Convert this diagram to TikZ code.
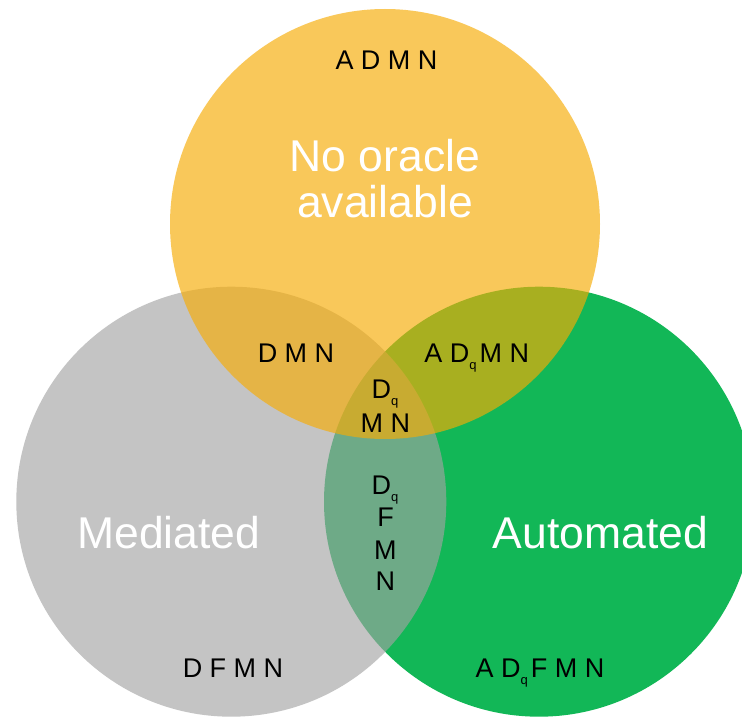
\documentclass[tikz,border=0pt]{standalone}
\usepackage{fontspec}
\setmainfont{Liberation Sans}
\newcommand\subq{\raisebox{-7.5pt}{\fontsize{13}{13}\selectfont q}}
\definecolor{venyellow}{HTML}{F7AC05}
\definecolor{vengray}{HTML}{A3A3A3}
\definecolor{vengreen}{HTML}{12B757}
\begin{document}
\begin{tikzpicture}[x=1pt,y=-1pt,
  big/.style={text=white,font=\fontsize{44.5}{45.5}\selectfont,anchor=base,inner sep=0pt},
  small/.style={text=black,font=\fontsize{27}{32}\selectfont,anchor=base,inner sep=0pt}]
\useasboundingbox (0,0) rectangle (742,717);
\clip (0,0) rectangle (742,717);
\fill[white] (0,0) rectangle (742,717);
% circles
\fill[vengreen] (539,501.7) circle (215);
\fill[vengray,fill opacity=0.64] (231.3,501.7) circle (215);
\fill[venyellow,fill opacity=0.66] (385,224) circle (215);
% titles
\node[big] (t1) at (385,171.5) {No oracle};
\node[big] (t2) at (385,217) {available};
\node[big] (med) at (168.8,548.7) {Mediated};
\node[big] (aut) at (600.6,548.7) {Automated};
% region labels
\node[small] (admn) at (386.5,69.5) {A D M N};
\node[small] (dmn) at (296,362) {D M N};
\node[small] (adqmn) at (476.8,362) {A D\subq\hspace{3pt}M N};
\node[small] (c1) at (385,398) {D\subq};
\node[small] (c2) at (385.3,432) {M N};
\node[small] (v1) at (385,494) {D\subq};
\node[small] (v2) at (385.7,526) {F};
\node[small] (v3) at (385.3,559) {M};
\node[small] (v4) at (385.3,590) {N};
\node[small] (dfmn) at (233,677) {D F M N};
\node[small] (adqfmn) at (540,677) {A D\subq\hspace{3pt}F M N};
\end{tikzpicture}
\end{document}
